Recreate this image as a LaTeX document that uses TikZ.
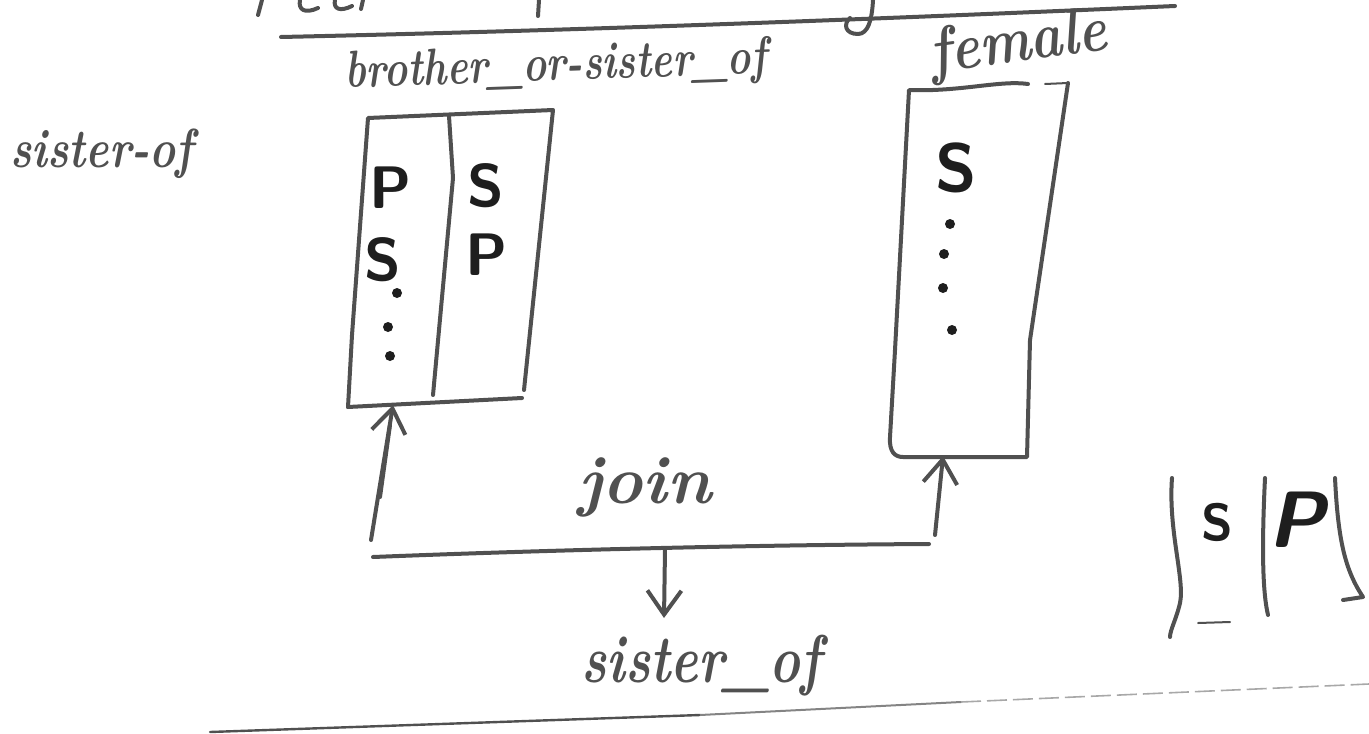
\documentclass[tikz,border=0pt]{standalone}
\usetikzlibrary{arrows.meta}
\definecolor{ink}{HTML}{505050}
\definecolor{darkink}{HTML}{1E1E1E}
\begin{document}
\begin{tikzpicture}[x=0.5pt,y=-0.5pt,
  pen/.style={draw=ink, line width=2pt, line cap=round, line join=round},
  hw/.style={font=\fontsize{#1}{#1}\selectfont\bfseries\itshape, text=ink, inner sep=0pt},
  letter/.style={font=\fontsize{#1}{#1}\selectfont\sffamily\bfseries, text=darkink, inner sep=0pt},
  dotmark/.style={circle, fill=darkink, minimum size=5pt, inner sep=0pt},
  barb/.style={-{Straight Barb[length=12pt,width=17pt]}}]
\useasboundingbox (0,0) rectangle (1369,733);

% top rule and cut-off strokes of the heading above it
\coordinate (tl1) at (281,37);
\coordinate (tl2) at (1175,6);
\draw[pen] (tl1) .. controls (600,30) and (900,18) .. (tl2);
\draw[pen] (262,0) -- (258,15);
\draw[pen] (300,0) .. controls (298,10) and (305,14) .. (318,8);
\draw[pen] (335,0) .. controls (333,9) and (340,12) .. (352,6);
\draw[pen] (363,0) -- (361,9);
\draw[pen] (539,0) -- (538,16);
\draw[pen] (873,0) .. controls (872,20) and (868,34) .. (858,34) .. controls (845,34) and (843,24) .. (850,18);

% labels
\node[hw=22, anchor=base west] (lsister) at (10,167) {\scalebox{1}[1.25]{sister-of}};
\node[hw=20, anchor=base west, rotate=2] (bros) at (345,88) {\scalebox{1}[1.3]{brother\_or-sister\_of}};
\node[hw=27, anchor=base west, rotate=8] (female) at (932,74) {\scalebox{1}[1.2]{female}};
\node[hw=34, anchor=base west] (join) at (578,503) {join};
\node[hw=26, anchor=base west] (bsister) at (581,682) {\scalebox{1}[1.3]{sister\_of}};

% left table brother_or_sister_of
\coordinate (A1) at (368,118);
\coordinate (A2) at (553,110);
\coordinate (A3) at (524,390);
\coordinate (A4) at (348,407);
\coordinate (A5) at (522,398);
\coordinate (D1) at (449,116);
\coordinate (D2) at (433,395);
\draw[pen] (A4) -- (352,335) -- (A1) -- (A2) -- (A3);
\draw[pen] (A4) -- (A5);
\draw[pen] (D1) -- (453,178) -- (D2);
\node[letter=30] (lp) at (391,188) {P};
\node[letter=30] (ls) at (383,260) {S};
\node[dotmark] (ld1) at (397,293) {};
\node[dotmark] (ld2) at (388,327) {};
\node[dotmark] (ld3) at (390,356) {};
\node[letter=30] (rs1) at (486,186) {S};
\node[letter=30] (rp1) at (487,255) {P};

% right table female
\coordinate (F1) at (909,90);
\coordinate (F2) at (1028,84);
\coordinate (F3) at (1045,84);
\coordinate (F4) at (1068,83);
\coordinate (F5) at (1027,457);
\coordinate (F6) at (903,457);
\coordinate (F7) at (890,437);
\draw[pen] (F2) .. controls (1000,80) and (960,92) .. (F1) -- (895,350) -- (F7)
  .. controls (889,452) and (895,457) .. (F6) -- (F5) -- (1030,340) -- (F4);
\draw[pen, line width=1pt] (F3) -- (F4);
\node[letter=34] (fs) at (956,168) {S};
\node[dotmark] (fd1) at (950,224) {};
\node[dotmark] (fd2) at (944,254) {};
\node[dotmark] (fd3) at (943,288) {};
\node[dotmark] (fd4) at (952,330) {};

% join arrows
\coordinate (boxbot) at (393,405);
\coordinate (la0) at (371,540);
\coordinate (fbot) at (943,456);
\coordinate (ra0) at (935,535);
\coordinate (j1) at (373,557);
\coordinate (j2) at (929,544);
\coordinate (jm) at (665,549);
\coordinate (so) at (664,618);
\draw[pen, barb] (la0) -- (boxbot);
\draw[pen] (380,497) -- (390,425);
\draw[pen, barb] (ra0) -- (fbot);
\draw[pen] (j1) .. controls (550,550) and (750,545) .. (j2);
\draw[pen, barb] (jm) -- (so);

% bottom rule
\draw[pen, line width=1.2pt] (210,732) -- (700,715);
\draw[draw=ink!70, line width=1pt] (700,715) -- (961,702);
\draw[draw=ink!50, line width=0.8pt, dash pattern=on 10pt off 3pt] (961,702) -- (1369,684);

% small S|P sketch
\draw[pen] (1172,478) .. controls (1168,530) and (1185,580) .. (1180,603) .. controls (1176,620) and (1170,630) .. (1170,637);
\draw[pen] (1265,478) .. controls (1262,540) and (1262,590) .. (1268,615);
\draw[pen] (1335,478) .. controls (1338,540) and (1345,570) .. (1363,597) -- (1343,600);
\draw[pen, line width=1pt] (1198,623) -- (1230,622);
\node[letter=26] (ss) at (1217,522) {S};
\node[letter=40, font=\fontsize{40}{40}\selectfont\sffamily\bfseries\itshape] (sp) at (1297,520) {P};
\end{tikzpicture}
\end{document}
